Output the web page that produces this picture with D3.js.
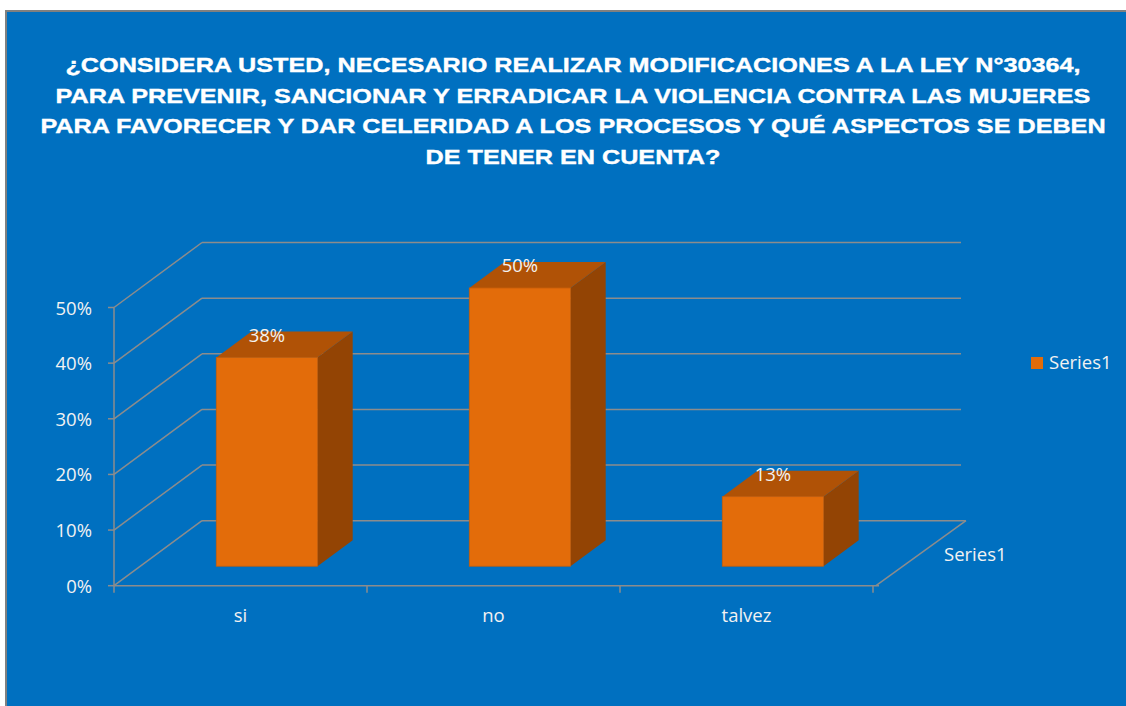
<!DOCTYPE html>
<html>
<head>
<meta charset="utf-8">
<script src="https://cdnjs.cloudflare.com/ajax/libs/d3/7.8.5/d3.min.js"></script>
<style>
    html, body { margin: 0; padding: 0; background: #ffffff; }
    svg { display: block; }
</style>
</head>
<body>
<div id="chart"></div>
<script>
// chart values
const categories = ["si", "no", "talvez"];
const values = [0.375, 0.5, 0.125];
const valueLabels = ["38%", "50%", "13%"];
const yTicks = [0, 0.1, 0.2, 0.3, 0.4, 0.5];
const seriesName = "Series1";
const titleLines = [
    "¿CONSIDERA USTED, NECESARIO REALIZAR MODIFICACIONES A LA LEY N°30364,",
    "PARA PREVENIR, SANCIONAR Y ERRADICAR LA VIOLENCIA CONTRA LAS MUJERES",
    "PARA FAVORECER Y DAR CELERIDAD A LOS PROCESOS Y QUÉ ASPECTOS SE DEBEN",
    "DE TENER EN CUENTA?"
];

const W = 1126, H = 706;
const depth = {dx: 88, dy: -65};      // full floor depth
const barDepth = [0.3, 0.7];          // bar sits in the middle of the depth
const gridColor = "#8c8c8c",
    textColor = "#f2f2f2",
    face = {front: "#e36c0a", top: "#b05206", side: "#934404"};

const svg = d3.select("#chart").append("svg")
    .attr("width", W)
    .attr("height", H)
    .attr("font-family", "'Open Sans', sans-serif");

// chart area
svg.append("rect")
    .attr("x", 6).attr("y", 11)
    .attr("width", W + 10).attr("height", H + 10)
    .attr("fill", "#0070c0")
    .attr("stroke", "#808080")
    .attr("stroke-width", 2);

// title (the original is drawn wider than plain Arial bold, so stretch it)
const titleX = 573;
svg.append("g")
    .attr("transform", `translate(${titleX},0) scale(1.2,1)`)
    .selectAll("text")
    .data(titleLines)
    .join("text")
    .attr("x", 0)
    .attr("y", (d, i) => 72 + i * 30.7)
    .attr("text-anchor", "middle")
    .attr("font-family", "'Liberation Sans', Arial, sans-serif")
    .attr("font-weight", "bold")
    .attr("font-size", 21)
    .attr("fill", "#ffffff")
    .attr("stroke", "#ffffff")
    .attr("stroke-width", 0.4)
    .text(d => d);

const x = d3.scaleBand()
    .domain(categories)
    .range([114, 873])
    .padding(0);
const y = d3.scaleLinear()
    .domain([0, 0.5])
    .range([585.7, 307.5]);

const x0 = x.range()[0], x1 = x.range()[1], y0 = y(0);
const grid = svg.append("g")
    .attr("stroke", gridColor)
    .attr("stroke-width", 1.5)
    .attr("fill", "none");

// back wall gridlines
grid.selectAll("line.back")
    .data(yTicks)
    .join("line")
    .classed("back", true)
    .attr("x1", x0 + depth.dx)
    .attr("x2", d => x1 + depth.dx + (d === 0 ? 5 : 0))
    .attr("y1", d => y(d) + depth.dy)
    .attr("y2", d => y(d) + depth.dy);

// side wall diagonals
grid.selectAll("line.side")
    .data(yTicks)
    .join("line")
    .classed("side", true)
    .attr("x1", x0)
    .attr("y1", d => y(d))
    .attr("x2", x0 + depth.dx)
    .attr("y2", d => y(d) + depth.dy);

// floor: front edge and right edge
grid.append("line")
    .attr("x1", x0).attr("y1", y0)
    .attr("x2", x1 + 6).attr("y2", y0);
grid.append("line")
    .attr("x1", x1 + 3).attr("y1", y0)
    .attr("x2", x1 + depth.dx + 5).attr("y2", y0 + depth.dy);

// value axis
grid.append("line")
    .attr("x1", x0).attr("x2", x0)
    .attr("y1", y(0)).attr("y2", y(0.5));
grid.selectAll("line.ytick")
    .data(yTicks)
    .join("line")
    .classed("ytick", true)
    .attr("x1", x0 - 6).attr("x2", x0)
    .attr("y1", d => y(d)).attr("y2", d => y(d));

// category ticks at band boundaries
const bounds = categories.map(c => x(c)).concat([x1]);
grid.selectAll("line.xtick")
    .data(bounds)
    .join("line")
    .classed("xtick", true)
    .attr("x1", d => d).attr("x2", d => d)
    .attr("y1", y0).attr("y2", y0 + 7);

svg.append("g")
    .selectAll("text")
    .data(yTicks)
    .join("text")
    .attr("x", 92)
    .attr("y", d => y(d) + 7)
    .attr("text-anchor", "end")
    .attr("font-size", 18.5)
    .attr("fill", textColor)
    .text(d => d3.format(".0%")(d));

svg.append("g")
    .selectAll("text")
    .data(categories)
    .join("text")
    .attr("x", d => x(d) + x.bandwidth() / 2)
    .attr("y", 622)
    .attr("text-anchor", "middle")
    .attr("font-size", 18.5)
    .attr("fill", textColor)
    .text(d => d);

// 3D bars
const barW = x.bandwidth() * 0.4;
const fdx = barDepth[0] * depth.dx, fdy = barDepth[0] * depth.dy;
const bdx = (barDepth[1] - barDepth[0]) * depth.dx,
    bdy = (barDepth[1] - barDepth[0]) * depth.dy;

const bars = svg.append("g")
    .selectAll("g.bar")
    .data(categories.map((c, i) => ({c, v: values[i], label: valueLabels[i]})))
    .join("g")
    .classed("bar", true);

function geom(d) {
    let l = x(d.c) + (x.bandwidth() - barW) / 2 + fdx,
        r = l + barW,
        t = y(d.v) + fdy,
        b = y(0) + fdy;
    return {l, r, t, b};
}

bars.append("polygon")
    .attr("points", d => {
        let g = geom(d);
        return [[g.r, g.t], [g.r + bdx, g.t + bdy], [g.r + bdx, g.b + bdy], [g.r, g.b]].join(" ");
    })
    .attr("fill", face.side);
bars.append("polygon")
    .attr("points", d => {
        let g = geom(d);
        return [[g.l, g.t], [g.r, g.t], [g.r + bdx, g.t + bdy], [g.l + bdx, g.t + bdy]].join(" ");
    })
    .attr("fill", face.top);
bars.append("rect")
    .attr("x", d => geom(d).l)
    .attr("y", d => geom(d).t)
    .attr("width", barW)
    .attr("height", d => geom(d).b - geom(d).t)
    .attr("fill", face.front)
    .attr("stroke", "#c85e08")
    .attr("stroke-width", 0.8);

bars.append("text")
    .attr("x", d => geom(d).l + barW / 2)
    .attr("y", d => geom(d).t - 16)
    .attr("text-anchor", "middle")
    .attr("font-size", 18.5)
    .attr("fill", textColor)
    .text(d => d.label);

// depth axis label
svg.append("text")
    .attr("x", 944)
    .attr("y", 561)
    .attr("font-size", 18.5)
    .attr("fill", textColor)
    .text(seriesName);

// legend
const legend = svg.append("g").attr("transform", "translate(1031,357)");
legend.append("rect")
    .attr("width", 12).attr("height", 12)
    .attr("fill", face.front);
legend.append("text")
    .attr("x", 18).attr("y", 12)
    .attr("font-size", 18.5)
    .attr("fill", textColor)
    .text(seriesName);
</script>
</body>
</html>
